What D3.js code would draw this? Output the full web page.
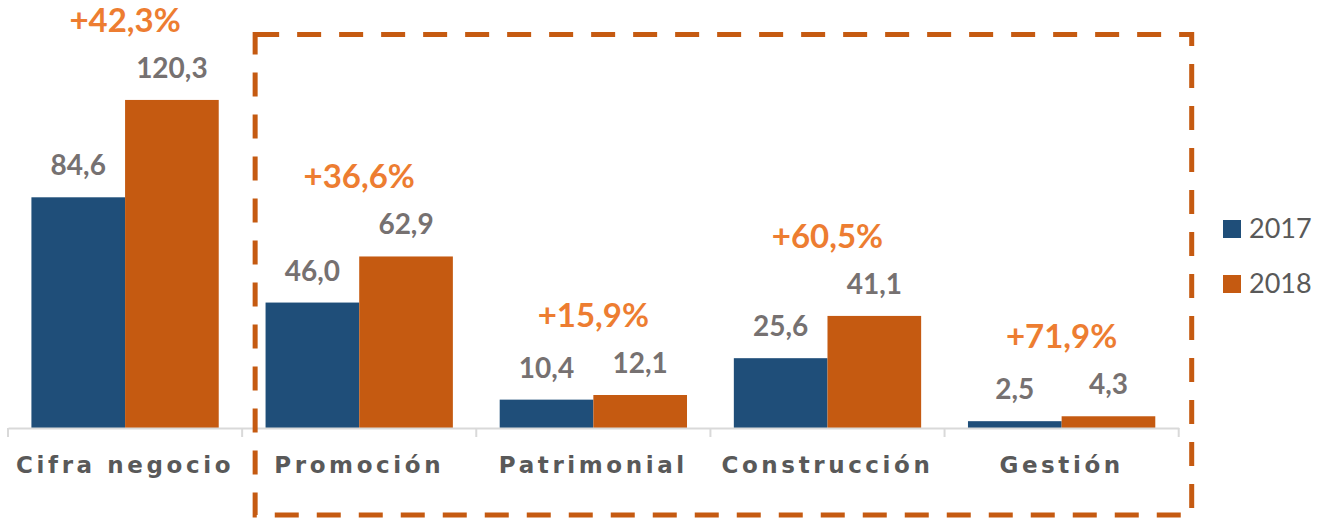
<!DOCTYPE html>
<html>
<head>
<meta charset="utf-8">
<script src="https://cdn.jsdelivr.net/npm/d3@7"></script>
<style>
  body { margin: 0; background: #fff; }
</style>
</head>
<body>
<div id="graph"></div>
<script>
const categories = ["Cifra negocio", "Promoción", "Patrimonial", "Construcción", "Gestión"];
const years = ["2017", "2018"];
const values2017 = [84.6, 46.0, 10.4, 25.6, 2.5];
const values2018 = [120.3, 62.9, 12.1, 41.1, 4.3];
const growthLabels = ["+42,3%", "+36,6%", "+15,9%", "+60,5%", "+71,9%"];

const colors = {"2017": "#1F4E79", "2018": "#C55A11"};
const fmt = v => v.toFixed(1).replace(".", ",");

const width = 1317, height = 520;
const baseline = 428;

const svg = d3.select("#graph").append("svg")
    .attr("width", width)
    .attr("height", height);

// scales
const x = d3.scaleBand()
    .domain(categories)
    .range([8, 1178.7]);

const xYear = d3.scaleBand()
    .domain(years)
    .range([0, x.bandwidth()])
    .paddingOuter(0.25);

const y = d3.scaleLinear()
    .domain([0, 130])
    .range([baseline, baseline - 130 * 2.727]);

const rows = categories.map((c, i) => ({
  name: c,
  vals: {"2017": values2017[i], "2018": values2018[i]},
  growth: growthLabels[i]
}));

// bars
const groups = svg.selectAll(".cat")
    .data(rows)
    .enter().append("g")
    .attr("class", "cat")
    .attr("transform", d => "translate(" + x(d.name) + ",0)");

groups.selectAll("rect")
    .data(d => years.map(yr => ({year: yr, v: d.vals[yr]})))
    .enter().append("rect")
    .attr("x", d => xYear(d.year))
    .attr("width", xYear.bandwidth())
    .attr("y", d => y(d.v))
    .attr("height", d => baseline - y(d.v))
    .attr("fill", d => colors[d.year]);

groups.selectAll(".val")
    .data(d => years.map(yr => ({year: yr, v: d.vals[yr]})))
    .enter().append("text")
    .attr("class", "val")
    .attr("x", d => xYear(d.year) + xYear.bandwidth() / 2)
    .attr("y", d => y(d.v) - 22)
    .attr("text-anchor", "middle")
    .attr("font-family", "Lato")
    .attr("font-weight", "bold")
    .attr("font-size", "28px")
    .attr("fill", "#767171")
    .text(d => fmt(d.v));

groups.append("text")
    .attr("x", x.bandwidth() / 2)
    .attr("y", d => y(Math.max(d.vals["2017"], d.vals["2018"])) - 68)
    .attr("text-anchor", "middle")
    .attr("font-family", "Lato")
    .attr("font-weight", "bold")
    .attr("font-size", "33px")
    .attr("fill", "#ED7D31")
    .text(d => d.growth);

// x axis
const axis = svg.append("g")
    .attr("transform", "translate(0," + baseline + ")")
    .call(d3.axisBottom(x).tickSize(0).tickFormat(""));
axis.select(".domain").attr("stroke", "#D9D9D9").attr("stroke-width", 2);

const edges = categories.map(c => x(c)).concat([x.range()[1]]);
svg.selectAll(".tickmark")
    .data(edges)
    .enter().append("line")
    .attr("x1", d => d).attr("x2", d => d)
    .attr("y1", baseline).attr("y2", baseline + 9)
    .attr("stroke", "#D9D9D9")
    .attr("stroke-width", 2);

svg.selectAll(".catlabel")
    .data(categories)
    .enter().append("text")
    .attr("x", d => x(d) + x.bandwidth() / 2)
    .attr("y", 473)
    .attr("text-anchor", "middle")
    .attr("font-family", "DejaVu Sans")
    .attr("font-weight", "bold")
    .attr("font-size", "23px")
    .attr("letter-spacing", "3.6px")
    .attr("fill", "#595959")
    .text(d => d);

// dashed highlight box
const boxL = x("Promoción") + 13, boxR = x.range()[1] + 13;
svg.append("rect")
    .attr("x", boxL)
    .attr("y", 34.5)
    .attr("width", boxR - boxL)
    .attr("height", 515 - 34.5)
    .attr("fill", "none")
    .attr("stroke", "#C55A11")
    .attr("stroke-width", 5)
    .attr("stroke-dasharray", "24,18");

// legend
const legend = svg.selectAll(".legend")
    .data(years)
    .enter().append("g")
    .attr("transform", (d, i) => "translate(1223," + (220 + i * 55) + ")");
legend.append("rect")
    .attr("width", 18).attr("height", 18)
    .attr("fill", d => colors[d]);
legend.append("text")
    .attr("x", 26).attr("y", 18)
    .attr("font-family", "Lato")
    .attr("font-size", "27px")
    .attr("fill", "#595959")
    .text(d => d);
</script>
</body>
</html>
